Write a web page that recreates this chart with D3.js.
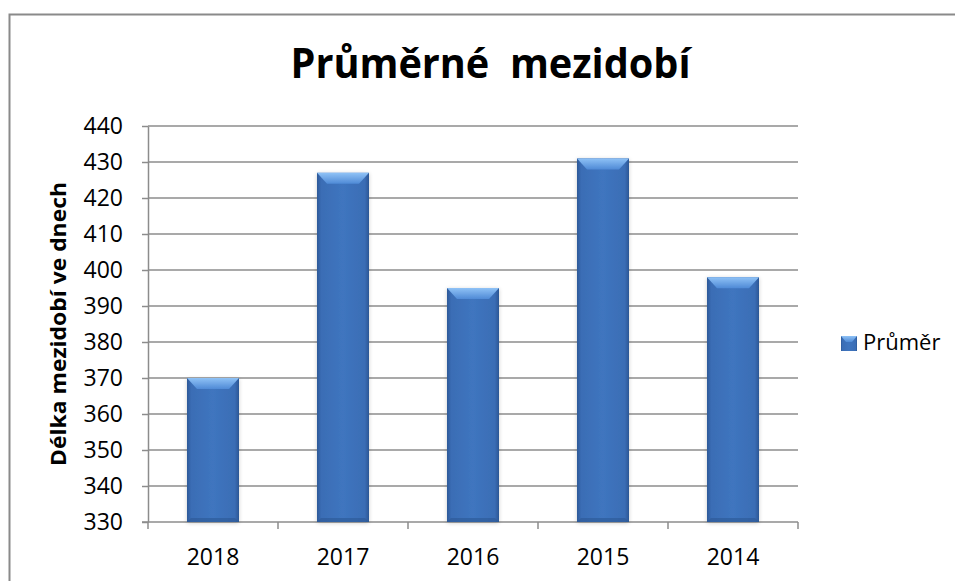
<!DOCTYPE html>
<html>
<head>
<meta charset="utf-8">
<script src="https://cdn.jsdelivr.net/npm/d3@7"></script>
<style>
  html, body { margin: 0; padding: 0; background: #fff; }
  svg { display: block; font-family: "Open Sans", "Noto Sans", sans-serif; }
</style>
</head>
<body>
<svg id="chart" width="955" height="581"></svg>
<script>
// data
const years = ['2018', '2017', '2016', '2015', '2014'];
const averages = [370, 427, 395, 431, 398];
const yTicks = [330, 340, 350, 360, 370, 380, 390, 400, 410, 420, 430, 440];
const seriesName = 'Průměr';
const titleText = 'Průměrné  mezidobí';
const yTitleText = 'Délka mezidobí ve dnech';

const W = 955, H = 581;
const plot = { left: 148, right: 798, top: 126, bottom: 522 };

const svg = d3.select('#chart');

// outer chart border (runs off the window on the right and bottom)
svg.append('rect')
  .attr('x', 9.5).attr('y', 14.5)
  .attr('width', W).attr('height', H)
  .attr('fill', '#fff')
  .attr('stroke', '#8a8a8a')
  .attr('stroke-width', 2);

const defs = svg.append('defs');

const bodyGrad = defs.append('linearGradient')
  .attr('id', 'barBody').attr('x1', 0).attr('x2', 1).attr('y1', 0).attr('y2', 0);
bodyGrad.append('stop').attr('offset', '0%').attr('stop-color', '#2c5898');
bodyGrad.append('stop').attr('offset', '8%').attr('stop-color', '#3a6db5');
bodyGrad.append('stop').attr('offset', '50%').attr('stop-color', '#3f75bf');
bodyGrad.append('stop').attr('offset', '92%').attr('stop-color', '#3a6db5');
bodyGrad.append('stop').attr('offset', '100%').attr('stop-color', '#2b5795');

const topGrad = defs.append('linearGradient')
  .attr('id', 'barTop').attr('x1', 0).attr('x2', 0).attr('y1', 0).attr('y2', 1);
topGrad.append('stop').attr('offset', '0%').attr('stop-color', '#8fc2f6');
topGrad.append('stop').attr('offset', '100%').attr('stop-color', '#4f8ad6');

const shadow = defs.append('filter').attr('id', 'barShadow')
  .attr('x', '-20%').attr('y', '-5%').attr('width', '140%').attr('height', '110%');
shadow.append('feGaussianBlur').attr('in', 'SourceAlpha').attr('stdDeviation', 2);
shadow.append('feOffset').attr('dx', 0).attr('dy', 1).attr('result', 'b');
shadow.append('feComponentTransfer').append('feFuncA').attr('type', 'linear').attr('slope', 0.2);
const merge = shadow.append('feMerge');
merge.append('feMergeNode');
merge.append('feMergeNode').attr('in', 'SourceGraphic');

const x = d3.scaleBand()
  .domain(years)
  .range([plot.left, plot.right])
  .paddingInner(0.6).paddingOuter(0.3);

const y = d3.scaleLinear()
  .domain([330, 440])
  .range([plot.bottom, plot.top]);

// gridlines
svg.append('g')
  .selectAll('line')
  .data(yTicks.slice(1))
  .enter().append('line')
  .attr('x1', plot.left).attr('x2', plot.right)
  .attr('y1', d => y(d)).attr('y2', d => y(d))
  .attr('stroke', '#8c8c8c')
  .attr('stroke-width', 1.5);

// y axis
const yAxis = svg.append('g')
  .attr('transform', `translate(${plot.left},0)`)
  .call(d3.axisLeft(y).tickValues(yTicks).tickSize(6).tickSizeOuter(0).tickPadding(19));
yAxis.select('.domain').attr('stroke', '#8c8c8c').attr('stroke-width', 1.5);
yAxis.selectAll('.tick line').attr('stroke', '#8c8c8c').attr('stroke-width', 1.5);
yAxis.selectAll('.tick text')
  .attr('fill', '#000')
  .attr('font-size', 23)
  .attr('font-family', '"Open Sans", sans-serif');

// x axis with ticks between categories
const xAxis = svg.append('g')
  .attr('transform', `translate(0,${plot.bottom})`);
xAxis.append('line')
  .attr('x1', plot.left - 6).attr('x2', plot.right)
  .attr('stroke', '#8c8c8c').attr('stroke-width', 1.5);
const bounds = d3.range(years.length + 1).map(i => plot.left + i * (plot.right - plot.left) / years.length);
xAxis.selectAll('.xt')
  .data(bounds)
  .enter().append('line')
  .attr('x1', d => d).attr('x2', d => d)
  .attr('y1', 0).attr('y2', 7)
  .attr('stroke', '#8c8c8c').attr('stroke-width', 1.5);
xAxis.selectAll('.xl')
  .data(years)
  .enter().append('text')
  .attr('x', d => x(d) + x.bandwidth() / 2)
  .attr('y', 43)
  .attr('text-anchor', 'middle')
  .attr('font-size', 23)
  .attr('fill', '#000')
  .text(d => d);

// bars
const bars = svg.append('g')
  .selectAll('g')
  .data(years.map((yr, i) => ({ year: yr, value: averages[i] })))
  .enter().append('g')
  .attr('filter', 'url(#barShadow)');

bars.append('rect')
  .attr('x', d => x(d.year))
  .attr('y', d => y(d.value))
  .attr('width', x.bandwidth())
  .attr('height', d => y(330) - y(d.value))
  .attr('fill', 'url(#barBody)');

// top bevel
bars.append('path')
  .attr('d', d => {
    const x0 = x(d.year), x1 = x0 + x.bandwidth(), t = y(d.value), b = 11, s = 10;
    return `M${x0},${t}L${x1},${t}L${x1 - s},${t + b}L${x0 + s},${t + b}Z`;
  })
  .attr('fill', 'url(#barTop)');

// bottom bevel shade
bars.append('path')
  .attr('d', d => {
    const x0 = x(d.year), x1 = x0 + x.bandwidth(), bt = y(330), b = 4, s = 4;
    return `M${x0},${bt}L${x1},${bt}L${x1 - s},${bt - b}L${x0 + s},${bt - b}Z`;
  })
  .attr('fill', '#2c5894').attr('opacity', 0.6);

// title
svg.append('text')
  .attr('x', 490.5).attr('y', 78)
  .attr('text-anchor', 'middle')
  .attr('font-size', 42)
  .attr('font-weight', 'bold')
  .attr('fill', '#000')
  .attr('textLength', 400)
  .attr('lengthAdjust', 'spacingAndGlyphs')
  .style('white-space', 'pre')
  .text(titleText);

// y axis title
svg.append('text')
  .attr('transform', `translate(66,${(plot.top + plot.bottom) / 2}) rotate(-90)`)
  .attr('text-anchor', 'middle')
  .attr('font-size', 21)
  .attr('font-weight', 'bold')
  .attr('fill', '#000')
  .attr('textLength', 284)
  .attr('lengthAdjust', 'spacingAndGlyphs')
  .text(yTitleText);

// legend
const legend = svg.append('g').attr('transform', 'translate(841,336)');
legend.append('rect')
  .attr('width', 16).attr('height', 15)
  .attr('fill', 'url(#barBody)');
legend.append('path')
  .attr('d', 'M0,0L16,0L11,6L5,6Z')
  .attr('fill', 'url(#barTop)');
legend.append('text')
  .attr('x', 22).attr('y', 14)
  .attr('font-size', 22)
  .attr('fill', '#000')
  .text(seriesName);
</script>
</body>
</html>
